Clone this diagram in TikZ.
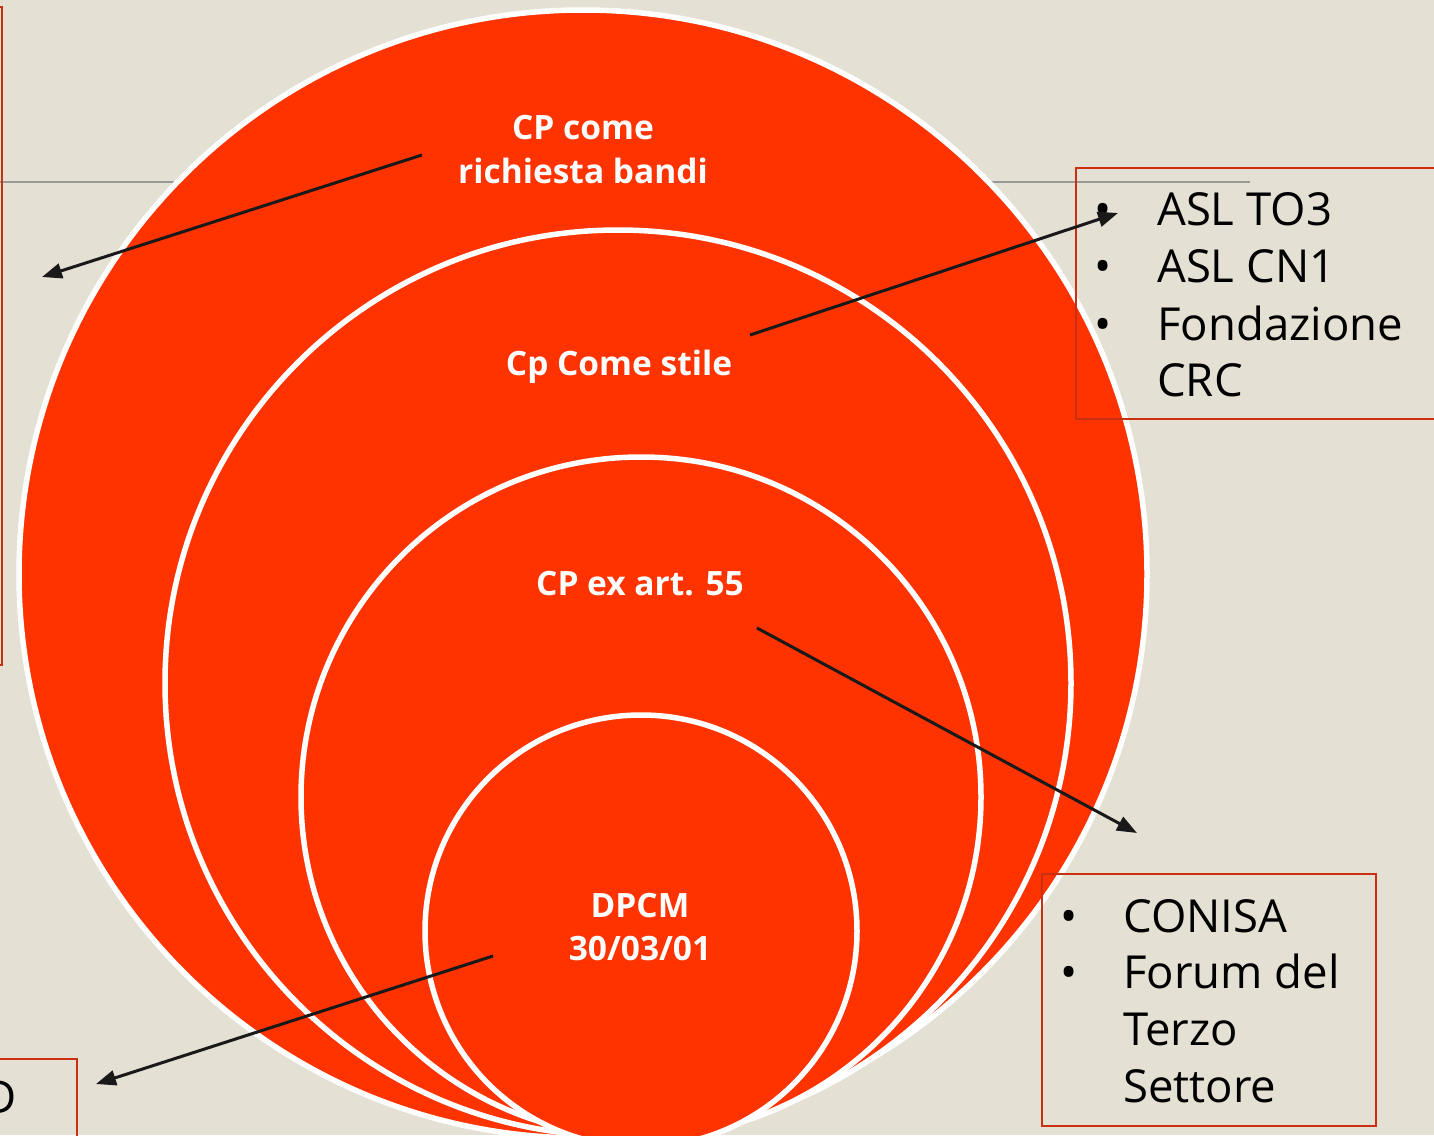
\documentclass[tikz,border=0pt]{standalone}
\usepackage{fontspec}
\setmainfont{Open Sans}
\usetikzlibrary{arrows.meta}
\definecolor{bgc}{HTML}{E5E0D4}
\definecolor{discc}{HTML}{FF3300}
\definecolor{boxred}{HTML}{C8300F}
\begin{document}
\begin{tikzpicture}[x=1pt,y=-1pt,
  disc/.style={circle, fill=discc, draw=white, line width=5.5pt, inner sep=0pt},
  lbl/.style={text=white, font=\fontsize{33.5}{44}\selectfont\bfseries, align=center, anchor=base, inner sep=0pt},
  item/.style={font=\fontsize{45.5}{57}\selectfont, anchor=base west, inner sep=0pt},
  bul/.style={font=\fontsize{45.5}{57}\selectfont, anchor=base, inner sep=0pt},
  frame/.style={draw=boxred, line width=1.5pt},
  arr/.style={-{Triangle[length=20pt,width=15pt]}, line width=3pt, draw=black!90}]
\useasboundingbox (0,0) rectangle (1434,1135);
\clip (0,0) rectangle (1434,1135);
\fill[bgc] (0,0) rectangle (1434,1135);
\draw[gray!80, line width=1.5pt] (0,182) coordinate (g1) -- (1250,182) coordinate (g2);
% nested circles
\node[disc, minimum size=1128] (c1) at (583,574) {};
\node[disc, minimum size=906] (c2) at (618,683) {};
\node[disc, minimum size=680] (c3) at (641,797) {};
\node[disc, minimum size=432] (c4) at (641,931) {};
% labels
\node[lbl] (l1a) at (583,139) {CP come};
\node[lbl] (l1b) at (583,183) {richiesta bandi};
\node[lbl] (l2) at (619,375) {Cp Come stile};
\node[lbl] (l3) at (640,595) {CP ex art. 55};
\node[lbl] (l4a) at (640,917) {DPCM};
\node[lbl] (l4b) at (640,960) {30/03/01};
% boxes
\draw[frame] (-20,7) rectangle (2,665);
\draw[frame] (1076,168) rectangle (1450,419);
\draw[frame] (1042,874) rectangle (1376,1126);
\draw[frame] (-20,1059) rectangle (77,1160);
% right top list
\node[bul] (b1) at (1103,225) {•};
\node[item] (t1) at (1157,225) {ASL TO3};
\node[bul] (b2) at (1103,282) {•};
\node[item] (t2) at (1157,282) {ASL CN1};
\node[bul] (b3) at (1103,340) {•};
\node[item] (t3) at (1157,340) {Fondazione};
\node[item] (t4) at (1157,396) {CRC};
% bottom right list
\node[bul] (d1) at (1069,932) {•};
\node[item] (s1) at (1123,932) {CONISA};
\node[bul] (d2) at (1069,988) {•};
\node[item] (s2) at (1123,988) {Forum del};
\node[item] (s3) at (1123,1045) {Terzo};
\node[item] (s4) at (1123,1102) {Settore};
% bottom-left text, cut by the picture's edge as in the reference
\node[item, anchor=base east] (bl) at (17,1113) {D};
% arrows
\coordinate (a1s) at (422,155); \coordinate (a1e) at (42,277);
\coordinate (a2s) at (750,335); \coordinate (a2e) at (1118,213);
\coordinate (a3s) at (757,628); \coordinate (a3e) at (1137,833);
\coordinate (a4s) at (493,956); \coordinate (a4e) at (96,1084);
\draw[arr] (a1s) -- (a1e);
\draw[arr] (a2s) -- (a2e);
\draw[arr] (a3s) -- (a3e);
\draw[arr] (a4s) -- (a4e);
\end{tikzpicture}
\end{document}
